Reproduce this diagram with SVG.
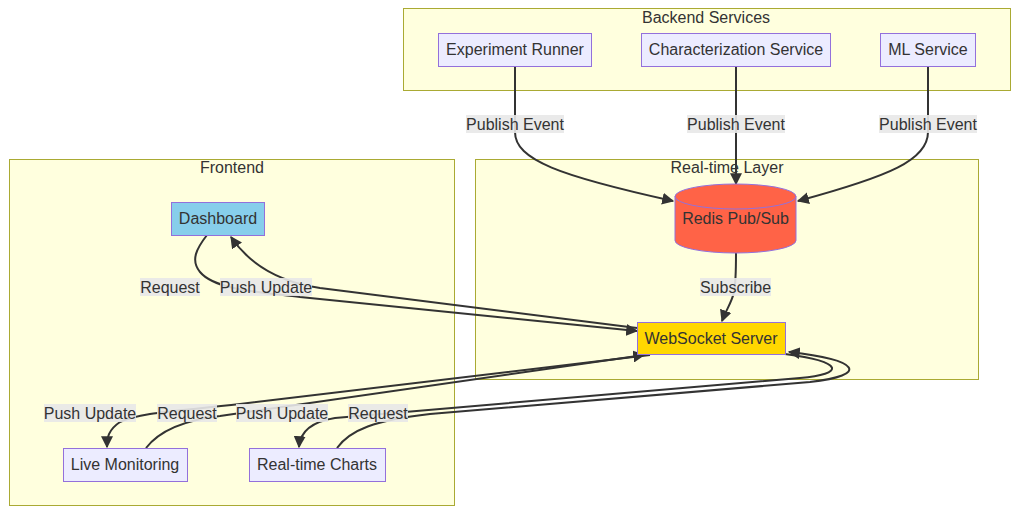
<svg xmlns="http://www.w3.org/2000/svg" width="1018" height="514" viewBox="0 0 1018 514">
<style>
text{font-family:"Liberation Sans",Arial,sans-serif;font-size:16px;fill:#333;text-anchor:middle;dominant-baseline:central}
.cluster{fill:#ffffde;stroke:#aaaa33;stroke-width:1}
.node{fill:#ECECFF;stroke:#9370DB;stroke-width:1}
.edge{fill:none;stroke:#333;stroke-width:2}
.lbg{fill:#e8e8e8;opacity:0.9}
</style>
<defs>
<marker id="arrow" viewBox="0 0 10 10" refX="9" refY="5" markerUnits="userSpaceOnUse" markerWidth="12" markerHeight="12" orient="auto">
<path d="M0,0 L10,5 L0,10 z" fill="#333"/>
</marker>
</defs>
<g id="clusters">
<g id="cluster-backend"><rect class="cluster" x="403.5" y="8.5" width="607" height="82"/><text x="706" y="17">Backend Services</text></g>
<g id="cluster-frontend"><rect class="cluster" x="9.5" y="159.5" width="445" height="346"/><text x="232" y="167">Frontend</text></g>
<g id="cluster-realtime"><rect class="cluster" x="475.5" y="159.5" width="503" height="220"/><text x="727" y="167">Real-time Layer</text></g>
</g>
<g id="connectors">
<path class="edge" d="M515,66 L515,132 C515,160 560,176 673,201" marker-end="url(#arrow)"/>
<path class="edge" d="M736,66 L736,184" marker-end="url(#arrow)"/>
<path class="edge" d="M928,66 L928,132 C928,160 890,176 798,201" marker-end="url(#arrow)"/>
<path class="edge" d="M736,253 C736,270 736,282 734,292 C732,302 726,310 722,321" marker-end="url(#arrow)"/>
<path class="edge" d="M207,235 C197,248 190,260 200,272 C215,290 260,292 300,297 L637,331" marker-end="url(#arrow)"/>
<path class="edge" d="M637,328 L320,288 C280,282 250,265 231,237" marker-end="url(#arrow)"/>
<path class="edge" d="M650,355 L240,404 C180,411 140,412 120,422 C108,430 107,438 107,447" marker-end="url(#arrow)"/>
<path class="edge" d="M146,448 C160,430 185,420 220,416 L644,355" marker-end="url(#arrow)"/>
<path class="edge" d="M785,354 C845,362 845,374 800,378 L335,418 C310,422 300,432 299,447" marker-end="url(#arrow)"/>
<path class="edge" d="M337,448 C350,430 375,420 430,414 L810,382 C870,375 860,360 789,352" marker-end="url(#arrow)"/>
</g>
<g id="edge-labels">
<rect class="lbg" x="466" y="115" width="98" height="18"/><text x="515" y="124">Publish Event</text>
<rect class="lbg" x="687" y="115" width="98" height="18"/><text x="736" y="124">Publish Event</text>
<rect class="lbg" x="879" y="115" width="98" height="18"/><text x="928" y="124">Publish Event</text>
<rect class="lbg" x="700" y="278" width="71" height="18"/><text x="735.5" y="287">Subscribe</text>
<rect class="lbg" x="140" y="278" width="60" height="18"/><text x="170" y="287">Request</text>
<rect class="lbg" x="220" y="278" width="92" height="18"/><text x="266" y="287">Push Update</text>
<rect class="lbg" x="44" y="404" width="92" height="18"/><text x="90" y="413">Push Update</text>
<rect class="lbg" x="157" y="404" width="60" height="18"/><text x="187" y="413">Request</text>
<rect class="lbg" x="236" y="404" width="92" height="18"/><text x="282" y="413">Push Update</text>
<rect class="lbg" x="348" y="404" width="60" height="18"/><text x="378" y="413">Request</text>
</g>
<g id="node-experiment-runner"><rect class="node" x="438.5" y="33.5" width="153" height="33"/><text x="515" y="49.5">Experiment Runner</text></g>
<g id="node-characterization"><rect class="node" x="641.5" y="33.5" width="189" height="33"/><text x="736" y="49.5">Characterization Service</text></g>
<g id="node-ml-service"><rect class="node" x="880.5" y="33.5" width="95" height="33"/><text x="928" y="49.5">ML Service</text></g>
<g id="node-dashboard"><rect x="171.5" y="202.5" width="93" height="33" fill="#87CEEB" stroke="#9370DB"/><text x="218" y="218.5">Dashboard</text></g>
<g id="node-redis"><path d="M675,196.5 A60.5,12.5 0 0 1 796,196.5 L796,240.5 A60.5,12.5 0 0 1 675,240.5 Z" fill="#FF6347" stroke="#9370DB"/><path d="M675,196.5 A60.5,12.5 0 0 0 796,196.5" fill="none" stroke="#9370DB"/><text x="735.5" y="218.5">Redis Pub/Sub</text></g>
<g id="node-websocket"><rect x="637.5" y="322.5" width="148" height="32" fill="#FFD700" stroke="#9370DB"/><text x="711" y="338">WebSocket Server</text></g>
<g id="node-live-monitoring"><rect class="node" x="63.5" y="448.5" width="124" height="33" /><text x="125" y="464.5">Live Monitoring</text></g>
<g id="node-realtime-charts"><rect class="node" x="249.5" y="448.5" width="136" height="33"/><text x="317" y="464.5">Real-time Charts</text></g>
</svg>
